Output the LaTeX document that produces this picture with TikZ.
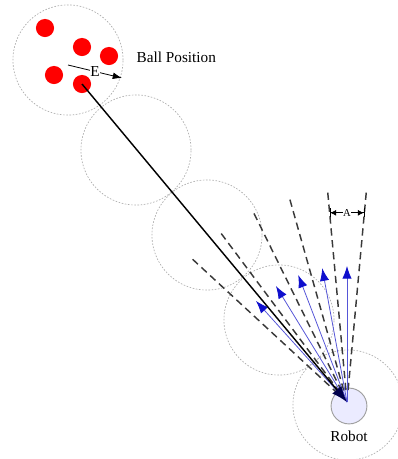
\documentclass[tikz,border=0pt]{standalone}
\usepackage{fontspec}
\setmainfont{Liberation Serif}
\usepackage{xcolor}
\usetikzlibrary{arrows.meta}

\definecolor{raycol}{RGB}{85,85,215}
\definecolor{tipcol}{RGB}{15,15,205}

\begin{document}
\begin{tikzpicture}[
    x=0.0265cm, y=0.0265cm,
    zone/.style={circle, draw=gray!65, dash pattern=on 1.2pt off 1.2pt, line width=0.5pt, minimum size=2.92cm, inner sep=0pt},
    ball/.style={circle, fill=red, minimum size=0.48cm, inner sep=0pt},
    robotbody/.style={circle, draw=gray!75, fill=blue!8, line width=0.7pt, minimum size=0.95cm, inner sep=0pt},
    border/.style={draw=gray!45!black, line width=1.1pt, dash pattern=on 5.5pt off 3.5pt},
    ray/.style={draw=raycol, line width=0.6pt, -{Latex[length=9.5pt,width=7pt,color=tipcol]}},
    track/.style={draw=black, line width=1.1pt, -{Latex[length=12pt,width=9pt,color=blue!30!black]}},
    label/.style={font=\fontsize{11.5}{13}\selectfont}
]
    \useasboundingbox (0,0) rectangle (397,-459);

    % Zones
    \node[zone] (zone1) at (68,-60) {};
    \node[zone] (zone2) at (136,-150) {};
    \node[zone] (zone3) at (207,-235) {};
    \node[zone] (zone4) at (279,-320) {};
    \node[zone] (zone5) at (348,-405) {};

    % Robot and balls
    \node[robotbody] (robot) at (349,-406) {};
    \coordinate (apex) at (347,-402);
    \node[ball] (ball1) at (45,-28) {};
    \node[ball] (ball2) at (82,-47) {};
    \node[ball] (ball3) at (109,-56) {};
    \node[ball] (ball4) at (54,-75) {};
    \node[ball] (ball5) at (82,-84) {};

    % Sector borders
    \foreach \a [count=\i] in {84.75,95.25,105.75,116.25,126.75,137.25} {
        \path (apex) ++(\a:12) coordinate (bs\i) (apex) ++(\a:212) coordinate (be\i);
        \draw[border] (bs\i) -- (be\i);
    }

    % Rays
    \foreach \a [count=\i] in {90,100.5,111,121.5,132} {
        \path (apex) ++(\a:136) coordinate (tip\i);
        \draw[ray] (apex) -- (tip\i);
    }

    % Ball to robot
    \draw[track] (ball5.center) -- (apex);

    % Measures
    \path (apex) ++(95.25:190) coordinate (aleft) (apex) ++(84.75:190) coordinate (aright);
    \draw[line width=0.5pt, {Bar[width=7pt]Latex[length=4.5pt,width=4.5pt]}-{Latex[length=4.5pt,width=4.5pt]Bar[width=7pt]}]
        (aleft) -- (aright) node[midway, fill=white, inner sep=0.5pt, font=\footnotesize] (alabel) {A};
    \coordinate (estart) at (68,-65);
    \coordinate (eend) at (122,-78);
    \draw[line width=0.6pt, -{Latex[length=7pt,width=5pt]}] (estart) -- (eend)
        node[midway, fill=white, inner sep=0.5pt, label] (elabel) {E};

    % Labels
    \node[label, anchor=west] (balltext) at (132,-57) {Ball Position};
    \node[label] (robottext) at (349,-436) {Robot};
\end{tikzpicture}
\end{document}
